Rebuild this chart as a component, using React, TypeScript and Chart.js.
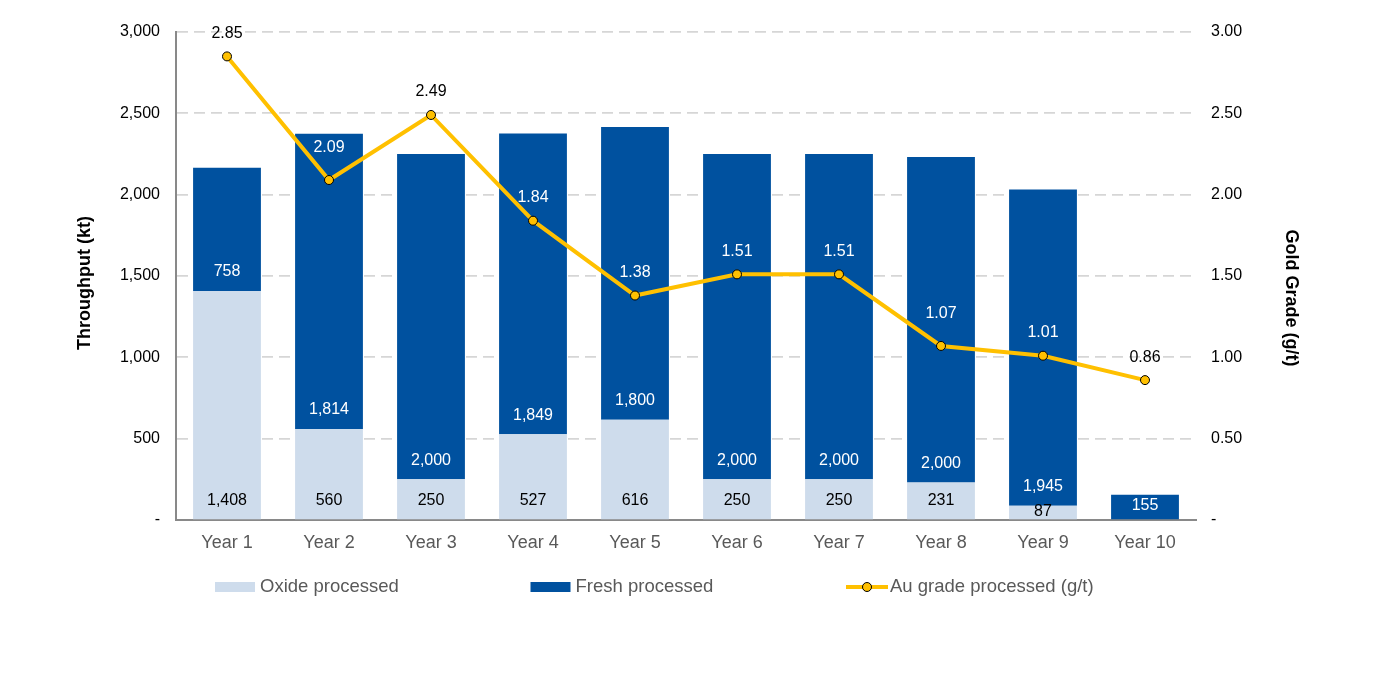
import React, { useEffect, useRef } from 'react';
import { Chart, registerables } from 'chart.js';

Chart.register(...registerables);

// ---- data ----
const years = ['Year 1', 'Year 2', 'Year 3', 'Year 4', 'Year 5', 'Year 6', 'Year 7', 'Year 8', 'Year 9', 'Year 10'];
const oxideProcessed = [1408, 560, 250, 527, 616, 250, 250, 231, 87, 0];
const freshProcessed = [758, 1814, 2000, 1849, 1800, 2000, 2000, 2000, 1945, 155];
const auGrade = [2.85, 2.09, 2.49, 1.84, 1.38, 1.51, 1.51, 1.07, 1.01, 0.86];

const throughputAxis = { min: 0, max: 3000, step: 500 };
const gradeAxis = { min: 0, max: 3, step: 0.5 };

// ---- styles ----
const FONT = '"Liberation Sans", Arial, Helvetica, sans-serif';
const OXIDE = '#CEDCEC';
const FRESH = '#00519F';
const GOLD = '#FFC000';
const WIDTH = 1389;
const HEIGHT = 673;

// Value labels on bars (inside base) and above the grade points
const valueLabels = {
  id: 'valueLabels',
  afterDatasetsDraw(chart: any) {
    const ctx = chart.ctx;
    ctx.save();
    ctx.font = `16px ${FONT}`;
    ctx.textAlign = 'center';
    ctx.textBaseline = 'middle';
    const barColors = ['#000000', '#FFFFFF'];
    // top of each stacked bar, used to pick a readable colour for grade labels
    const freshMeta = chart.getDatasetMeta(1);
    chart.data.datasets.forEach((ds: any, di: number) => {
      const meta = chart.getDatasetMeta(di);
      if (meta.hidden) return;
      meta.data.forEach((el: any, i: number) => {
        const v = ds.data[i];
        if (!v) return;
        if (meta.type === 'bar') {
          const { x, y, base } = el.getProps(['x', 'y', 'base'], true);
          const h = base - y;
          ctx.fillStyle = barColors[di];
          ctx.fillText(v.toLocaleString('en-US'), x, base - Math.min(19, h / 2 + 1));
        } else {
          const { x, y } = el.getProps(['x', 'y'], true);
          const lift = i === 1 || i === 7 ? 32 : 23;
          const ly = y - lift;
          const bar = freshMeta.data[i];
          const barTop = bar ? bar.getProps(['y'], true).y : Infinity;
          ctx.fillStyle = ly - 8 > barTop ? '#FFFFFF' : '#000000';
          ctx.fillText(v.toFixed(2), x, ly);
        }
      });
    });
    ctx.restore();
  },
};

// Axis titles
const axisTitles = {
  id: 'axisTitles',
  afterDraw(chart: any) {
    const ctx = chart.ctx;
    ctx.save();
    ctx.font = `bold 18px ${FONT}`;
    ctx.fillStyle = '#000000';
    ctx.textAlign = 'center';
    ctx.textBaseline = 'middle';
    ctx.translate(85, 283);
    ctx.rotate(-Math.PI / 2);
    ctx.fillText('Throughput (kt)', 0, 0);
    ctx.restore();
    ctx.save();
    ctx.font = `bold 18px ${FONT}`;
    ctx.fillStyle = '#000000';
    ctx.textAlign = 'center';
    ctx.textBaseline = 'middle';
    ctx.translate(1291, 298);
    ctx.rotate(Math.PI / 2);
    ctx.fillText('Gold Grade (g/t)', 0, 0);
    ctx.restore();
  },
};

// Legend laid out in evenly spaced columns below the axis
const wideLegend = {
  id: 'wideLegend',
  afterDraw(chart: any) {
    const ctx = chart.ctx;
    const y = 587;
    const x0 = 215;
    const col = 315.5;
    ctx.save();
    ctx.font = `18.5px ${FONT}`;
    ctx.textBaseline = 'middle';
    ctx.textAlign = 'left';
    chart.data.datasets.forEach((ds: any, i: number) => {
      const x = x0 + i * col;
      if (ds.type === 'line') {
        ctx.strokeStyle = GOLD;
        ctx.lineWidth = 4;
        ctx.beginPath();
        ctx.moveTo(x, y);
        ctx.lineTo(x + 42, y);
        ctx.stroke();
        ctx.beginPath();
        ctx.arc(x + 21, y, 4.5, 0, Math.PI * 2);
        ctx.fillStyle = GOLD;
        ctx.fill();
        ctx.lineWidth = 1;
        ctx.strokeStyle = '#000000';
        ctx.stroke();
        ctx.fillStyle = '#595959';
        ctx.fillText(ds.label, x + 44, y);
      } else {
        ctx.fillStyle = ds.backgroundColor;
        ctx.fillRect(x, y - 5, 40, 10);
        ctx.fillStyle = '#595959';
        ctx.fillText(ds.label, x + 45, y);
      }
    });
    ctx.restore();
  },
};

export default function App() {
  const canvasRef = useRef<HTMLCanvasElement | null>(null);

  useEffect(() => {
    if (!canvasRef.current) return;
    const chart = new Chart(canvasRef.current, {
      type: 'bar',
      data: {
        labels: years,
        datasets: [
          {
            type: 'bar',
            label: 'Oxide processed',
            data: oxideProcessed,
            backgroundColor: OXIDE,
            yAxisID: 'y',
            order: 1,
            barPercentage: 0.665,
            categoryPercentage: 1,
          },
          {
            type: 'bar',
            label: 'Fresh processed',
            data: freshProcessed,
            backgroundColor: FRESH,
            yAxisID: 'y',
            order: 1,
            barPercentage: 0.665,
            categoryPercentage: 1,
          },
          {
            type: 'line',
            label: 'Au grade processed (g/t)',
            data: auGrade,
            borderColor: GOLD,
            backgroundColor: GOLD,
            borderWidth: 4,
            pointRadius: 4.5,
            pointBackgroundColor: GOLD,
            pointBorderColor: '#000000',
            pointBorderWidth: 1,
            tension: 0,
            yAxisID: 'y1',
            order: 0,
          },
        ] as any,
      },
      options: {
        responsive: false,
        animation: false,
        layout: { padding: { top: 32, left: 0, right: 0, bottom: 0 } },
        plugins: {
          legend: { display: false },
          tooltip: { enabled: false },
        },
        scales: {
          x: {
            stacked: true,
            grid: { display: false, drawTicks: false },
            border: { display: true, color: '#898989', width: 2 },
            ticks: {
              color: '#595959',
              font: { family: FONT, size: 18 },
              padding: 12,
            },
            afterFit: (s: any) => {
              s.height = HEIGHT - 520;
            },
          },
          y: {
            stacked: true,
            position: 'left',
            min: throughputAxis.min,
            max: throughputAxis.max,
            grid: { color: '#D6D6D6', lineWidth: 1.7, drawTicks: false },
            border: { display: true, color: '#898989', width: 2, dash: [11, 6] },
            ticks: {
              stepSize: throughputAxis.step,
              color: '#000000',
              font: { family: FONT, size: 16 },
              padding: 16,
              callback: (v: any) => (Number(v) === 0 ? '-' : Number(v).toLocaleString('en-US')),
            },
            afterFit: (s: any) => {
              s.width = 176;
            },
          },
          y1: {
            position: 'right',
            min: gradeAxis.min,
            max: gradeAxis.max,
            grid: { display: false, drawTicks: false },
            border: { display: false },
            ticks: {
              stepSize: gradeAxis.step,
              color: '#000000',
              font: { family: FONT, size: 16 },
              padding: 15,
              callback: (v: any) => (Number(v) === 0 ? '-' : Number(v).toFixed(2)),
            },
            afterFit: (s: any) => {
              s.width = WIDTH - 1196;
            },
          },
        },
      } as any,
      plugins: [valueLabels, axisTitles, wideLegend],
    });
    return () => chart.destroy();
  }, []);

  return (
    <div style={{ position: 'fixed', left: 0, top: 0, width: WIDTH, height: HEIGHT, background: '#FFFFFF' }}>
      <canvas ref={canvasRef} width={WIDTH} height={HEIGHT} />
    </div>
  );
}
